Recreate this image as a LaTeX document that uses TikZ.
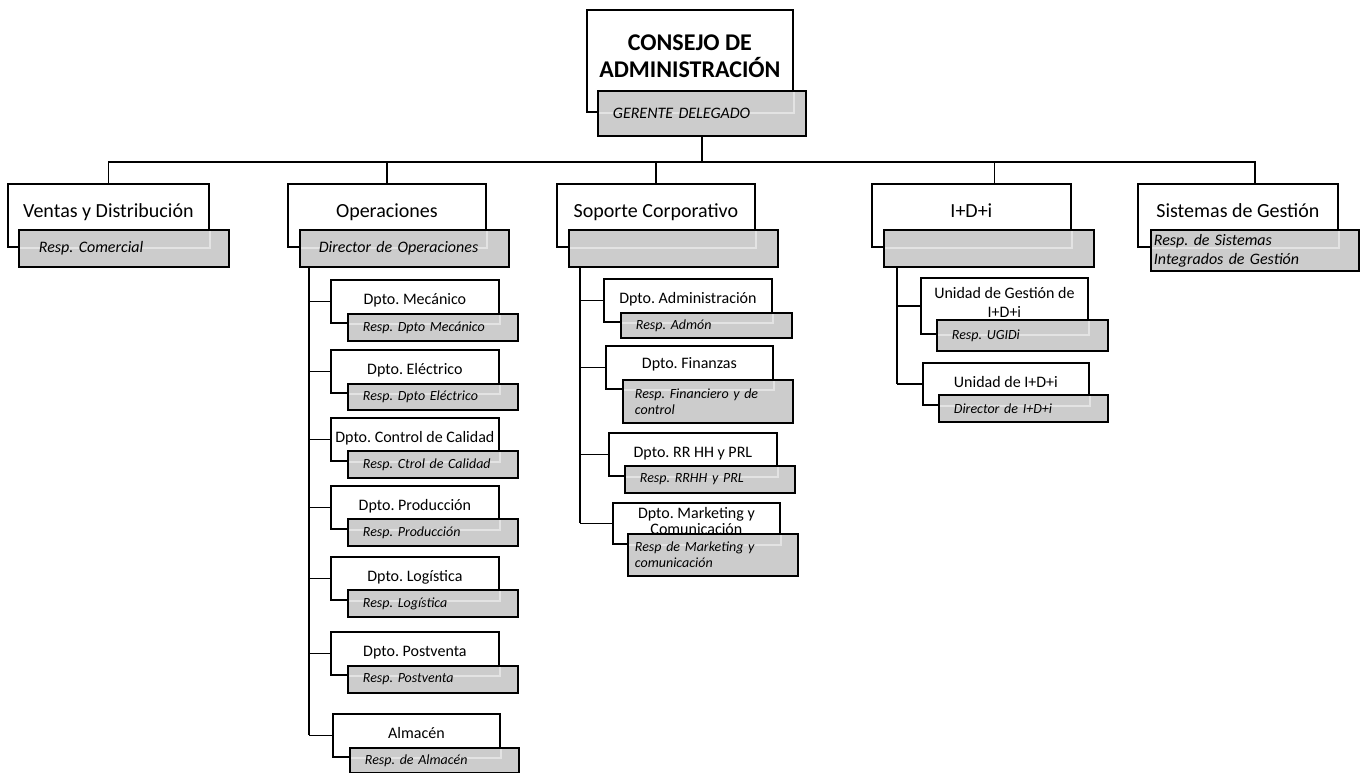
\documentclass[tikz,border=0pt]{standalone}
\usepackage{fontspec}
\setmainfont{Carlito}
\usepackage{tikz}
\usepackage{xcolor}
\definecolor{rgray}{RGB}{204,204,204}
\usetikzlibrary{positioning, calc}
\frenchspacing
\tikzstyle{Box} = [
draw,
line width=1.8pt,
fill=white,
anchor=north west,
inner sep=0pt,
align=center]
\tikzstyle{TopBox} = [Box, font=\fontsize{20}{24}\selectfont,
text height=34pt, text depth=29pt]
\tikzstyle{SubBox} = [Box, font=\fontsize{16}{16}\selectfont,
text height=25pt, text depth=18pt]
\tikzstyle{Resp} = [
draw,
line width=1.8pt,
fill=rgray,
anchor=north west,
inner ysep=0pt,
inner xsep=15pt,
align=left,
font=\fontsize{14}{16}\selectfont\itshape]
\tikzstyle{TopResp} = [Resp, font=\fontsize{16}{19}\selectfont\itshape]
\tikzstyle{Line} = [line width=1.8pt, black]
\tikzstyle{Faint} = [line width=1.8pt, white, opacity=0.45]
% the white box edge seen through the grey box
\tikzset{Over/.style={path picture={
\draw[Faint] (#1.south west) -- (#1.south east) -- (#1.north east);}}}

\begin{document}
\begin{tikzpicture}[x=1pt, y=-1pt]
    \useasboundingbox (0,0) rectangle (1366,773);

    % top
    \node [Box, font=\fontsize{24}{27}\selectfont\bfseries, minimum width=206pt,
        text height=68pt, text depth=34pt] (consejo) at (586,9) {CONSEJO DE\\ADMINISTRACIÓN};
    \node [TopResp, Over=consejo, text width=178pt, minimum height=45pt] (consejo-r) at (597,90) {GERENTE DELEGADO};

    % first level
    \node [TopBox, minimum width=201pt] (ventas) at (7,183) {Ventas y Distribución};
    \node [TopResp, Over=ventas, inner xsep=20pt, text width=170pt, minimum height=37pt] (ventas-r) at (18,229) {Resp. Comercial};
    \node [TopBox, minimum width=198pt] (operaciones) at (287,183) {Operaciones};
    \node [TopResp, Over=operaciones, inner xsep=19pt, text width=171pt, minimum height=37pt] (operaciones-r) at (299,229) {Director de Operaciones};
    \node [TopBox, minimum width=198pt] (soporte) at (556,183) {Soporte Corporativo};
    \node [TopResp, Over=soporte, text width=179pt, minimum height=37pt] (soporte-r) at (568,229) {};
    \node [TopBox, minimum width=199pt] (idi) at (871,183) {I+D+i};
    \node [TopResp, Over=idi, text width=180pt, minimum height=37pt] (idi-r) at (883,229) {};
    \node [TopBox, minimum width=200pt] (sistemas) at (1137,183) {Sistemas de Gestión};
    \node [TopResp, Over=sistemas, inner xsep=3pt, text width=202pt, minimum height=41pt] (sistemas-r) at (1150,229) {Resp. de Sistemas\\Integrados de Gestión};

    % operaciones
    \node [SubBox, minimum width=168pt] (mecanico) at (330,279) {Dpto. Mecánico};
    \node [Resp, Over=mecanico, text width=140pt, minimum height=27pt] (mecanico-r) at (347,313) {Resp. Dpto Mecánico};
    \node [SubBox, minimum width=168pt] (electrico) at (330,349) {Dpto. Eléctrico};
    \node [Resp, Over=electrico, text width=140pt, minimum height=26pt] (electrico-r) at (347,383) {Resp. Dpto Eléctrico};
    \node [SubBox, minimum width=168pt] (calidad) at (330,417) {Dpto. Control de Calidad};
    \node [Resp, Over=calidad, text width=140pt, minimum height=27pt] (calidad-r) at (347,450) {Resp. Ctrol de Calidad};
    \node [SubBox, minimum width=168pt] (produccion) at (330,485) {Dpto. Producción};
    \node [Resp, Over=produccion, text width=140pt, minimum height=27pt] (produccion-r) at (347,518) {Resp. Producción};
    \node [SubBox, minimum width=168pt] (logistica) at (330,556) {Dpto. Logística};
    \node [Resp, Over=logistica, text width=140pt, minimum height=27pt] (logistica-r) at (347,589) {Resp. Logística};
    \node [SubBox, minimum width=168pt] (postventa) at (330,631) {Dpto. Postventa};
    \node [Resp, Over=postventa, text width=140pt, minimum height=27pt] (postventa-r) at (347,665) {Resp. Postventa};
    \node [SubBox, minimum width=167pt] (almacen) at (332,713) {Almacén};
    \node [Resp, Over=almacen, text width=139pt, minimum height=25pt] (almacen-r) at (349,747) {Resp. de Almacén};

    % soporte corporativo
    \node [SubBox, minimum width=168pt] (admin) at (603,278) {Dpto. Administración};
    \node [Resp, Over=admin, text width=141pt, minimum height=25pt] (admin-r) at (620,312) {Resp. Admón};
    \node [SubBox, minimum width=167pt, text height=23pt, text depth=20pt] (finanzas) at (605,345) {Dpto. Finanzas};
    \node [Resp, Over=finanzas, inner xsep=12pt, text width=146pt, minimum height=43pt] (finanzas-r) at (622,379) {Resp. Financiero y de\\control};
    \node [SubBox, minimum width=168pt] (rrhh) at (608,432) {Dpto. RR HH y PRL};
    \node [Resp, Over=rrhh, text width=140pt, minimum height=27pt] (rrhh-r) at (624,465) {Resp. RRHH y PRL};
    \node [SubBox, minimum width=167pt, text height=32pt, text depth=9pt] (marketing) at (612,502) {Dpto. Marketing y\\Comunicación};
    \node [Resp, Over=marketing, inner xsep=7pt, text width=156pt, minimum height=42pt] (marketing-r) at (627,533) {Resp de Marketing y\\comunicación};

    % I+D+i
    \node [SubBox, font=\fontsize{16}{19}\selectfont, minimum width=167pt,
        text height=40pt, text depth=16pt] (ugidi) at (920,277) {Unidad de Gestión de\\I+D+i};
    \node [Resp, Over=ugidi, text width=141pt, minimum height=31pt] (ugidi-r) at (936,319) {Resp. UGIDi};
    \node [SubBox, minimum width=166pt, text depth=17pt] (unidad) at (922,362) {Unidad de I+D+i};
    \node [Resp, Over=unidad, text width=139pt, minimum height=27pt] (unidad-r) at (938,394) {Director de I+D+i};

    % connectors
    \coordinate (bus) at (699,162);
    \coordinate (idi-in) at ([xshift=23pt]idi.north);
    \coordinate (sis-in) at ([xshift=17pt]sistemas.north);
    \draw[Line] (consejo-r.south) -- (consejo-r.south |- bus);
    \draw[Line] (ventas.north) -- (ventas.north |- bus) -- (sis-in |- bus) -- (sis-in);
    \foreach \n in {operaciones, soporte}
        \draw[Line] (\n.north) -- (\n.north |- bus);
    \draw[Line] (idi-in) -- (idi-in |- bus);

    \coordinate (ops-v) at ([xshift=10pt]operaciones-r.south west);
    \draw[Line] (ops-v) -- (ops-v |- almacen.west);
    \foreach \n in {mecanico, electrico, calidad, produccion, logistica, postventa, almacen}
        \draw[Line] (ops-v |- \n.west) -- (\n.west);

    \coordinate (sop-v) at ([xshift=12pt]soporte-r.south west);
    \draw[Line] (sop-v) -- (sop-v |- marketing.west);
    \foreach \n in {admin, finanzas, rrhh, marketing}
        \draw[Line] (sop-v |- \n.west) -- (\n.west);

    \coordinate (idi-v) at ([xshift=14pt]idi-r.south west);
    \draw[Line] (idi-v) -- (idi-v |- unidad.west);
    \foreach \n in {ugidi, unidad}
        \draw[Line] (idi-v |- \n.west) -- (\n.west);
\end{tikzpicture}
\end{document}
